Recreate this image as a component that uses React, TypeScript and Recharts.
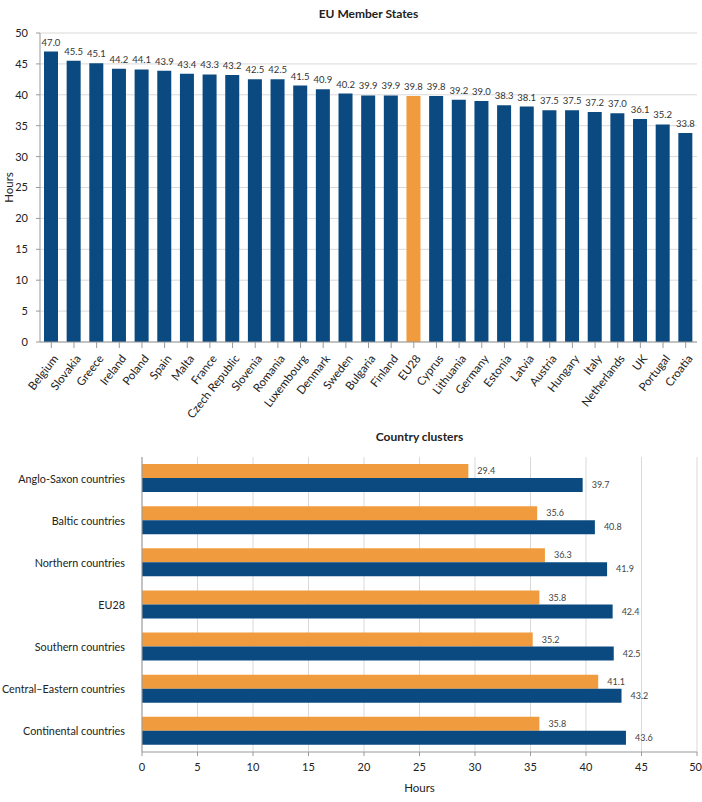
import React from 'react'
import {
    BarChart,
    Bar,
    XAxis,
    YAxis,
    CartesianGrid,
    Cell,
    LabelList
} from 'recharts'

const BLUE = '#0b4a80'
const ORANGE = '#f09c3e'
const FONT = 'Lato, "Noto Sans", sans-serif'

const countries = [
    'Belgium', 'Slovakia', 'Greece', 'Ireland', 'Poland', 'Spain', 'Malta', 'France',
    'Czech Republic', 'Slovenia', 'Romania', 'Luxembourg', 'Denmark', 'Sweden',
    'Bulgaria', 'Finland', 'EU28', 'Cyprus', 'Lithuania', 'Germany', 'Estonia',
    'Latvia', 'Austria', 'Hungary', 'Italy', 'Netherlands', 'UK', 'Portugal', 'Croatia'
]
const countryHours = [
    47.0, 45.5, 45.1, 44.2, 44.1, 43.9, 43.4, 43.3, 43.2, 42.5, 42.5, 41.5, 40.9, 40.2,
    39.9, 39.9, 39.8, 39.8, 39.2, 39.0, 38.3, 38.1, 37.5, 37.5, 37.2, 37.0, 36.1, 35.2, 33.8
]

const clusters = [
    'Anglo-Saxon countries', 'Baltic countries', 'Northern countries', 'EU28',
    'Southern countries', 'Central–Eastern countries', 'Continental countries'
]
const clusterOrange = [29.4, 35.6, 36.3, 35.8, 35.2, 41.1, 35.8]
const clusterBlue = [39.7, 40.8, 41.9, 42.4, 42.5, 43.2, 43.6]

const hourTicks = [0, 5, 10, 15, 20, 25, 30, 35, 40, 45, 50]

const memberData = countries.map((name, i) => ({ name, hours: countryHours[i] }))
const clusterData = clusters.map((name, i) => ({ name, orange: clusterOrange[i], blue: clusterBlue[i] }))

const RotatedTick = (props: any) => {
    const { x, y, payload } = props
    return (
        <g transform={`translate(${x + 4},${y + 6})`}>
            <text
                transform="rotate(-52)"
                textAnchor="end"
                dominantBaseline="central"
                fontSize={11.5}
                fontFamily={FONT}
                fill="#222"
            >
                {payload.value}
            </text>
        </g>
    )
}

// category labels on one line, right aligned
const ClusterTick = (props: any) => {
    const { x, y, payload } = props
    return (
        <text x={x - 9} y={y} textAnchor="end" dominantBaseline="central" fontSize={10.8} fontFamily={FONT} fill="#222">
            {payload.value}
        </text>
    )
}

const fmt = (v: any) => Number(v).toFixed(1)

const App = () => {
    return (
        <div style={{ position: 'absolute', left: 0, top: 0, width: 702, height: 802, background: '#fff', fontFamily: FONT }}>
            <div style={{ position: 'absolute', top: 6, left: 40, width: 657, textAlign: 'center', fontSize: 12, fontWeight: 700, color: '#222' }}>
                EU Member States
            </div>
            <div style={{ position: 'absolute', left: -12, top: 181, width: 40, textAlign: 'center', transform: 'rotate(-90deg)', fontSize: 11.5, color: '#222' }}>
                Hours
            </div>
            <BarChart
                width={702}
                height={420}
                data={memberData}
                margin={{ top: 33, right: 5, left: 0, bottom: 0 }}
                barSize={14}
            >
                <CartesianGrid vertical={false} stroke="#d9d9d9" />
                <XAxis
                    dataKey="name"
                    interval={0}
                    tick={<RotatedTick />}
                    height={78}
                    stroke="#999"
                    tickLine={{ stroke: '#999' }}
                />
                <YAxis
                    domain={[0, 50]}
                    ticks={hourTicks}
                    width={40}
                    stroke="#999"
                    tickSize={4}
                    tickMargin={8}
                    tick={{ fontSize: 11, fill: '#222', fontFamily: FONT }}
                />
                <Bar dataKey="hours" isAnimationActive={false}>
                    {memberData.map((d) => (
                        <Cell key={d.name} fill={d.name === 'EU28' ? ORANGE : BLUE} />
                    ))}
                    <LabelList dataKey="hours" position="top" offset={6} formatter={fmt} style={{ fontSize: 9.5, fill: '#333', fontFamily: FONT }} />
                </Bar>
            </BarChart>

            <div style={{ position: 'absolute', top: 429, left: 142, width: 555, textAlign: 'center', fontSize: 12, fontWeight: 700, color: '#222' }}>
                Country clusters
            </div>
            <BarChart
                width={702}
                height={382}
                layout="vertical"
                data={clusterData}
                margin={{ top: 37, right: 5, left: 0, bottom: 0 }}
                barSize={14}
                barGap={0}
            >
                <CartesianGrid horizontal={false} stroke="#d9d9d9" />
                <XAxis
                    type="number"
                    domain={[0, 50]}
                    ticks={hourTicks}
                    height={50}
                    stroke="#999"
                    tickSize={4}
                    tickMargin={7}
                    tick={{ fontSize: 11, fill: '#222', fontFamily: FONT }}
                    label={{ value: 'Hours', position: 'insideBottom', offset: 10, style: { fontSize: 11.5, fill: '#222', fontFamily: FONT } }}
                />
                <YAxis
                    type="category"
                    dataKey="name"
                    width={142}
                    stroke="#999"
                    tickLine={false}
                    interval={0}
                    tick={<ClusterTick />}
                />
                <Bar dataKey="orange" fill={ORANGE} isAnimationActive={false}>
                    <LabelList dataKey="orange" position="right" offset={9} formatter={fmt} style={{ fontSize: 9, fill: '#444', fontFamily: FONT }} />
                </Bar>
                <Bar dataKey="blue" fill={BLUE} isAnimationActive={false}>
                    <LabelList dataKey="blue" position="right" offset={9} formatter={fmt} style={{ fontSize: 9, fill: '#444', fontFamily: FONT }} />
                </Bar>
            </BarChart>
        </div>
    )
}

export default App
